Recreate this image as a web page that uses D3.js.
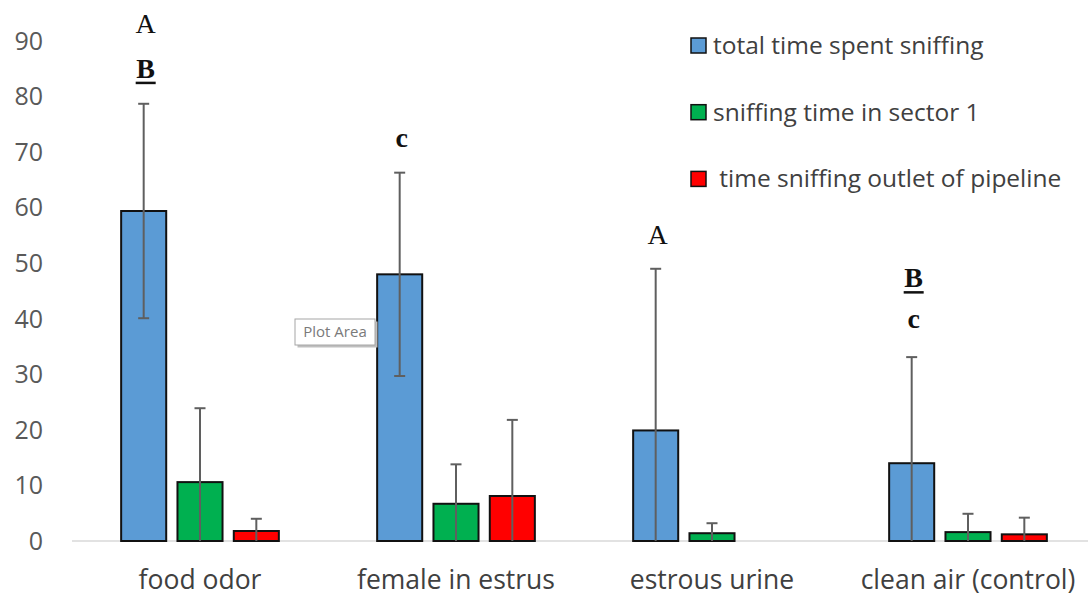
<!DOCTYPE html>
<html>
<head>
<meta charset="utf-8">
<script src="https://cdn.jsdelivr.net/npm/d3@7"></script>
<style>
  body { margin: 0; background: #fff; }
  svg { display: block; }
</style>
</head>
<body>
<svg id="chart"></svg>
<script>
const categories = ['food odor', 'female in estrus', 'estrous urine', 'clean air (control)'];
const seriesNames = ['total time spent sniffing', 'sniffing time in sector 1', ' time sniffing outlet of pipeline'];
const seriesColors = ['#5b9bd5', '#00b050', '#ff0000'];

const totalTime = [59.4, 48.0, 19.9, 14.0];
const sector1Time = [10.6, 6.7, 1.4, 1.6];
const outletTime = [1.8, 8.1, 0, 1.2];

const totalErr = [19.3, 18.3, 29.1, 19.1];
const sector1Err = [13.3, 7.1, 1.8, 3.3];
const outletErr = [2.2, 13.7, 0, 3.0];

const yTicks = [0, 10, 20, 30, 40, 50, 60, 70, 80, 90];

// significance letters above the bars: [category, text, value, underlined]
const letters = [
  ['food odor', 'A', 91.4, false],
  ['food odor', 'B', 83.4, true],
  ['female in estrus', 'c', 70.9, false],
  ['estrous urine', 'A', 53.5, false],
  ['clean air (control)', 'B', 45.7, true],
  ['clean air (control)', 'c', 38.3, false]
];

const width = 1088;
const height = 597;
const plot = {left: 72, right: 1096, top: 41, bottom: 541};

const values = [totalTime, sector1Time, outletTime];
const errors = [totalErr, sector1Err, outletErr];

const bars = [];
categories.forEach((cat, i) => {
  seriesNames.forEach((name, j) => {
    bars.push({cat, series: j, value: values[j][i], err: errors[j][i]});
  });
});

const x0 = d3.scaleBand()
  .domain(categories)
  .range([plot.left, plot.right])
  .paddingInner(0.384)
  .paddingOuter(0.192);

const x1 = d3.scaleBand()
  .domain(d3.range(seriesNames.length))
  .range([0, x0.bandwidth()])
  .paddingInner(0.2);

const y = d3.scaleLinear()
  .domain([0, 90])
  .range([plot.bottom, plot.top]);

const chart = d3.select('#chart')
  .attr('width', width)
  .attr('height', height);

const sansFont = '"Open Sans", sans-serif';

// y axis labels only, no line
chart.append('g')
  .selectAll('text')
  .data(yTicks)
  .enter()
  .append('text')
  .attr('x', 43)
  .attr('y', d => y(d))
  .attr('dy', '0.35em')
  .attr('text-anchor', 'end')
  .attr('font-family', sansFont)
  .attr('font-size', 25)
  .attr('fill', '#595959')
  .text(d => d);

// category axis line
chart.append('line')
  .attr('x1', plot.left)
  .attr('x2', width)
  .attr('y1', y(0))
  .attr('y2', y(0))
  .attr('stroke', '#d9d9d9')
  .attr('stroke-width', 1.5);

const barX = d => x0(d.cat) + x1(d.series);

chart.append('g')
  .selectAll('rect')
  .data(bars.filter(d => d.value > 0))
  .enter()
  .append('rect')
  .attr('x', barX)
  .attr('y', d => y(d.value))
  .attr('width', x1.bandwidth())
  .attr('height', d => y(0) - y(d.value))
  .attr('fill', d => seriesColors[d.series])
  .attr('stroke', '#111')
  .attr('stroke-width', 2);

// error bars, clipped at zero
const errGroup = chart.append('g')
  .attr('stroke', '#5f5f5f')
  .attr('stroke-width', 2);

const withErr = bars.filter(d => d.err > 0);
const cx = d => barX(d) + x1.bandwidth() / 2;
const capHalf = 5.5;

errGroup.selectAll('line.stem')
  .data(withErr)
  .enter()
  .append('line')
  .attr('class', 'stem')
  .attr('x1', cx)
  .attr('x2', cx)
  .attr('y1', d => y(d.value + d.err))
  .attr('y2', d => y(Math.max(0, d.value - d.err)));

errGroup.selectAll('line.capTop')
  .data(withErr)
  .enter()
  .append('line')
  .attr('class', 'capTop')
  .attr('x1', d => cx(d) - capHalf)
  .attr('x2', d => cx(d) + capHalf)
  .attr('y1', d => y(d.value + d.err))
  .attr('y2', d => y(d.value + d.err));

errGroup.selectAll('line.capBottom')
  .data(withErr.filter(d => d.value - d.err > 0))
  .enter()
  .append('line')
  .attr('class', 'capBottom')
  .attr('x1', d => cx(d) - capHalf)
  .attr('x2', d => cx(d) + capHalf)
  .attr('y1', d => y(d.value - d.err))
  .attr('y2', d => y(d.value - d.err));

// category labels
chart.append('g')
  .selectAll('text')
  .data(categories)
  .enter()
  .append('text')
  .attr('x', d => x0(d) + x0.bandwidth() / 2)
  .attr('y', 589)
  .attr('text-anchor', 'middle')
  .attr('font-family', sansFont)
  .attr('font-size', 26.5)
  .attr('fill', '#404040')
  .text(d => d);

// letters
const letterX = d => x0(d[0]) + x1(0) + x1.bandwidth() / 2 + 2;
const letterG = chart.append('g')
  .selectAll('g')
  .data(letters)
  .enter()
  .append('g');

letterG.append('text')
  .attr('x', letterX)
  .attr('y', d => y(d[2]))
  .attr('text-anchor', 'middle')
  .attr('font-family', '"Liberation Serif", "Times New Roman", serif')
  .attr('font-size', 28)
  .attr('font-weight', d => (d[3] || d[1] === 'c') ? 'bold' : 'normal')
  .attr('fill', '#111')
  .text(d => d[1]);

letterG.filter(d => d[3])
  .append('rect')
  .attr('x', d => letterX(d) - 10)
  .attr('y', d => y(d[2]) + 4)
  .attr('width', 20)
  .attr('height', 2.5)
  .attr('fill', '#111');

// legend
const legend = chart.append('g')
  .selectAll('g')
  .data(seriesNames)
  .enter()
  .append('g')
  .attr('transform', (d, i) => `translate(690, ${45.5 + i * 66.7})`);

legend.append('rect')
  .attr('x', 1)
  .attr('y', -7.5)
  .attr('width', 15)
  .attr('height', 15)
  .attr('fill', (d, i) => seriesColors[i])
  .attr('stroke', '#111')
  .attr('stroke-width', 1.5);

legend.append('text')
  .attr('x', 23)
  .attr('dy', '0.35em')
  .attr('xml:space', 'preserve')
  .style('white-space', 'pre')
  .attr('font-family', sansFont)
  .attr('font-size', 24.5)
  .attr('fill', '#404040')
  .text(d => d);

// "Plot Area" hover tip from the screenshot
const tip = chart.append('g').attr('transform', 'translate(295, 319)');
tip.append('rect')
  .attr('x', 2.5)
  .attr('y', 2.5)
  .attr('width', 80)
  .attr('height', 26)
  .attr('fill', '#bfbfbf');
tip.append('rect')
  .attr('width', 80)
  .attr('height', 26)
  .attr('fill', '#fff')
  .attr('stroke', '#a6a6a6')
  .attr('stroke-width', 1);
tip.append('text')
  .attr('x', 40)
  .attr('y', 13)
  .attr('dy', '0.35em')
  .attr('text-anchor', 'middle')
  .attr('font-family', sansFont)
  .attr('font-size', 15)
  .attr('fill', '#7a7a7a')
  .text('Plot Area');
</script>
</body>
</html>
